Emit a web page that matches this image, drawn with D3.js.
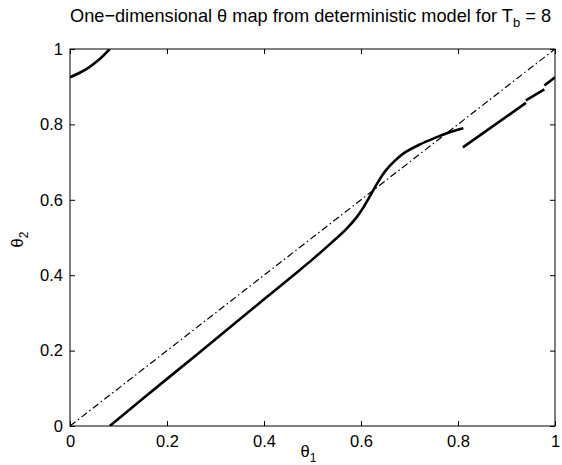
<!DOCTYPE html>
<html><head><meta charset="utf-8">
<script src="https://cdn.jsdelivr.net/npm/d3@7"></script>
<style>body{margin:0;background:#fff}svg{display:block}text{font-family:"Liberation Sans",Arial,sans-serif;fill:#000}</style>
</head><body><svg id="c" width="562" height="465"></svg>
<script>
const xTicks=[0,0.2,0.4,0.6,0.8,1];
const yTicks=[0,0.2,0.4,0.6,0.8,1];
const xTickLabels=["0","0.2","0.4","0.6","0.8","1"];
const yTickLabels=["0","0.2","0.4","0.6","0.8","1"];
const identityT=[0,1];
const identityV=[0,1];
const mainT=[0.082,0.20,0.30,0.40,0.474,0.50,0.54,0.57,0.59,0.605,0.62,0.635,0.65,0.67,0.69,0.72,0.75,0.78,0.811];
const mainV=[0,0.125,0.230,0.336,0.414,0.442,0.487,0.523,0.552,0.580,0.613,0.647,0.676,0.704,0.725,0.746,0.763,0.778,0.790];
const pieceBT=[0.810,0.940];
const pieceBV=[0.739,0.857];
const pieceCT=[0.940,0.978];
const pieceCV=[0.864,0.893];
const pieceDT=[0.978,1.0];
const pieceDV=[0.903,0.925];
const topT=[0,0.02,0.04,0.06,0.082];
const topV=[0.925,0.937,0.952,0.972,1.0];

const L=70,R=555,T=49,B=426;
const svg=d3.select("#c");
const x=d3.scaleLinear().domain([0,1]).range([L,R]);
const y=d3.scaleLinear().domain([0,1]).range([B,T]);
const zip=(a,b)=>a.map((d,i)=>[d,b[i]]);
const line=d3.line().x(d=>x(d[0])).y(d=>y(d[1])).curve(d3.curveCatmullRom.alpha(0.5));
svg.append("clipPath").attr("id","pc").append("rect").attr("x",L).attr("y",T).attr("width",R-L).attr("height",B-T);
const g=svg.append("g").attr("clip-path","url(#pc)");
g.append("path").attr("d",line(zip(identityT,identityV))).attr("fill","none").attr("stroke","#000").attr("stroke-width",1.2).attr("stroke-dasharray","7,3,1.5,3");
[[mainT,mainV],[pieceBT,pieceBV],[pieceCT,pieceCV],[pieceDT,pieceDV],[topT,topV]].forEach(([a,b])=>{
 g.append("path").attr("d",line(zip(a,b))).attr("fill","none").attr("stroke","#000").attr("stroke-width",2.6).attr("stroke-linecap","butt");
});
svg.append("rect").attr("x",L).attr("y",T).attr("width",R-L).attr("height",B-T).attr("fill","none").attr("stroke","#000").attr("stroke-width",1);
const tl=5;
const ax=svg.append("g").attr("transform",`translate(0,${B})`).call(d3.axisBottom(x).tickValues(xTicks).tickFormat((d,i)=>xTickLabels[i]).tickSizeInner(-tl).tickSizeOuter(0).tickPadding(9));
const axt=svg.append("g").attr("transform",`translate(0,${T})`).call(d3.axisTop(x).tickValues(xTicks).tickFormat("").tickSizeInner(-tl).tickSizeOuter(0));
const ay=svg.append("g").attr("transform",`translate(${L},0)`).call(d3.axisLeft(y).tickValues(yTicks).tickFormat((d,i)=>yTickLabels[i]).tickSizeInner(-tl).tickSizeOuter(0).tickPadding(7));
const ayr=svg.append("g").attr("transform",`translate(${R},0)`).call(d3.axisRight(y).tickValues(yTicks).tickFormat("").tickSizeInner(-tl).tickSizeOuter(0));
[ax,axt,ay,ayr].forEach(a=>{a.select(".domain").remove();a.selectAll("text").style("font-size","16.5px").style("font-family","Liberation Sans, Arial, sans-serif");a.selectAll("line").attr("stroke","#000");});
const xl=svg.append("text").attr("x",x(0.5)-4).attr("y",457).attr("text-anchor","middle").style("font-size","16.5px");
xl.append("tspan").text("θ");xl.append("tspan").attr("dy",5).style("font-size","12px").text("1");
const yl=svg.append("text").attr("transform",`translate(23,${y(0.5)+2}) rotate(-90)`).attr("text-anchor","middle").style("font-size","16.5px");
yl.append("tspan").text("θ");yl.append("tspan").attr("dy",5).style("font-size","12px").text("2");
const tt=svg.append("text").attr("x",x(0.5)-2).attr("y",22).attr("text-anchor","middle").style("font-size","18.2px");
tt.append("tspan").text("One−dimensional θ map from deterministic model for T");
tt.append("tspan").attr("dy",5).style("font-size","13px").text("b");
tt.append("tspan").attr("dy",-5).text(" = 8");
</script></body></html>
